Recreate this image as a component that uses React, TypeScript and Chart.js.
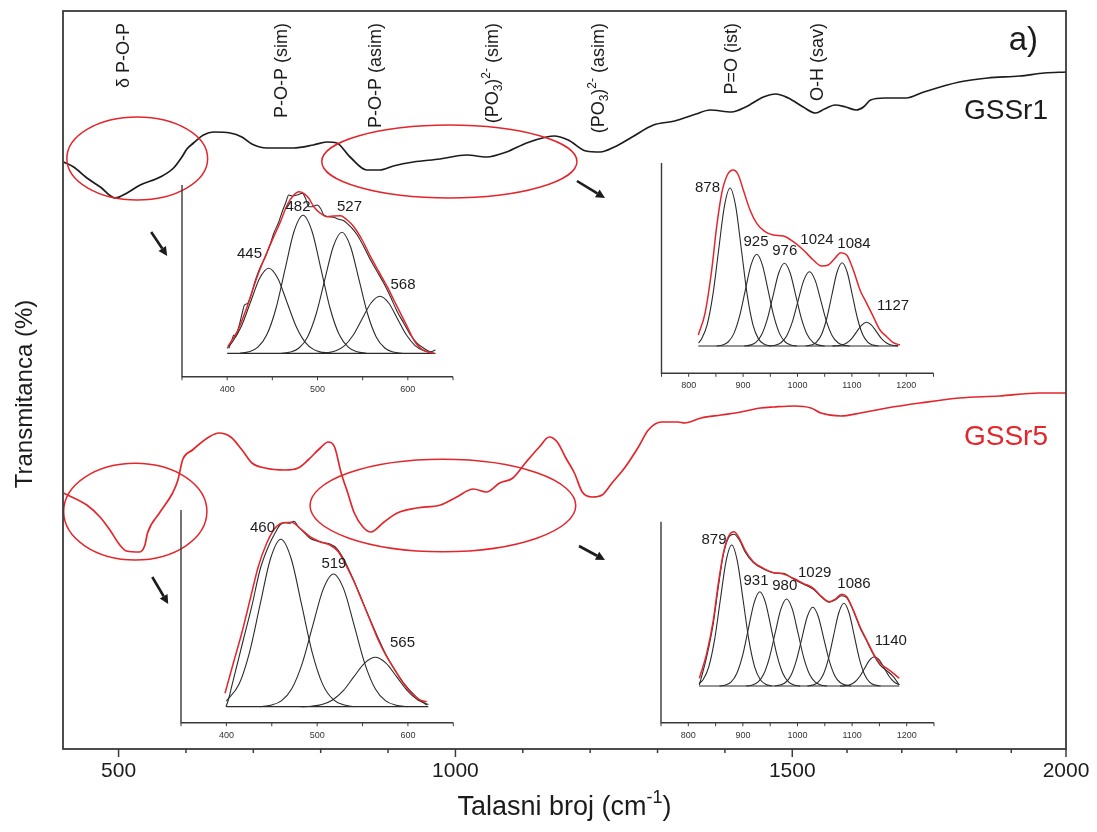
import React, { useEffect, useRef } from "react";
import { Chart, registerables } from "chart.js";

Chart.register(...registerables);

const FONT = '"Liberation Sans", Arial, Helvetica, sans-serif';
const RED = "#e3262b";
const INK = "#1c1c1c";
const AXIS_INK = "#3a3a3a";

// ---------------- main spectra (wavenumber, transmittance in arbitrary units) ----------------
const gssr1Wavenumbers = [418.4, 433.3, 453.1, 472.9, 495.1, 512.5, 532.2, 561.8, 581.6, 594, 601.4, 611.2, 626, 640.9, 665.6, 683, 697.8, 720, 759.5, 789.1, 809, 823.8, 843.6, 868.3, 888, 907.8, 937.4, 977, 1016.6, 1046.3, 1075.9, 1105.6, 1135.2, 1146.4, 1167.4, 1193.8, 1214.9, 1235.9, 1262.3, 1293.9, 1325.5, 1357.1, 1378.1, 1409.7, 1430.8, 1457.2, 1475.6, 1494.1, 1519.9, 1542.5, 1558.8, 1578.1, 1597.6, 1617.2, 1630.1, 1643.1, 1669, 1707.8, 1740.3, 1805.1, 1856.9, 1915.3, 1960.6, 2000];
const gssr1Transmittance = [58.7, 58.2, 57.1, 56.2, 55.1, 55.6, 56.4, 57.2, 58.1, 59.2, 60.0, 60.6, 61.4, 61.7, 61.6, 61.2, 60.5, 60.1, 60.1, 60.4, 60.7, 60.6, 59.2, 57.9, 57.9, 58.3, 58.7, 59.0, 59.4, 59.2, 59.7, 60.6, 61.2, 61.3, 60.9, 59.8, 59.7, 60.2, 61.2, 62.4, 62.8, 63.5, 63.9, 63.7, 64.2, 65.2, 65.5, 65.1, 64.2, 63.6, 64.0, 64.4, 64.2, 63.9, 64.2, 64.9, 65.1, 65.1, 65.7, 66.7, 67.1, 67.3, 67.6, 67.7];

const gssr5Wavenumbers = [418, 452.8, 472.4, 487.1, 501.8, 511.6, 531.3, 539.1, 543, 560.6, 580.2, 588.1, 595, 609.7, 634.2, 648.9, 666.5, 683.3, 698, 717.5, 747, 766.6, 781.3, 800.9, 810.8, 820.6, 830.4, 840.2, 849.9, 862.7, 874.4, 894.1, 913.7, 943.1, 977.5, 1001.9, 1026.5, 1046.1, 1065.7, 1085.3, 1105, 1124.5, 1139.2, 1151.1, 1163.9, 1176.6, 1188.3, 1203, 1217.7, 1232.4, 1252.1, 1271.6, 1286.3, 1306, 1330.5, 1340.3, 1364.8, 1394.3, 1423.6, 1453, 1472.7, 1503.8, 1534.1, 1552.2, 1588.3, 1624.6, 1672.8, 1733.2, 1805.7, 1878.1, 1950.4, 2000];
const gssr5Transmittance = [25.6, 24.4, 23.2, 21.9, 20.4, 19.8, 19.7, 20.4, 21.6, 23.6, 25.6, 26.9, 28.9, 29.9, 31.2, 31.6, 31.2, 29.9, 28.6, 28.1, 27.9, 28.1, 28.9, 30.2, 30.7, 30.2, 27.6, 25.6, 23.6, 22.2, 21.7, 22.7, 23.6, 24.1, 24.4, 25.2, 26.0, 25.7, 26.6, 27.1, 28.7, 30.2, 31.2, 30.7, 29.1, 27.6, 25.7, 25.2, 25.4, 26.6, 28.2, 30.2, 31.9, 32.7, 32.7, 32.6, 33.1, 33.4, 33.7, 34.1, 34.2, 34.3, 34.1, 33.6, 33.3, 33.6, 34.1, 34.6, 35.1, 35.3, 35.6, 35.6];

const sampleNames = ["GSSr1", "GSSr5"];
const sampleNameValues = [63.8, 31.2];
const sampleNameColors = [INK, RED];

// ---------------- main axis (segmented: compressed above 1500 cm-1) ----------------
const AXIS_MIN = 417.5;
const AXIS_MAX = 2000;
const AXIS_BREAK = 1500;
const AXIS_COMPRESSION = 0.8126;
const Y_MIN = 0;
const Y_MAX = 73.8;
const axisTickValues = [500, 600, 700, 800, 900, 1000, 1100, 1200, 1300, 1400, 1500, 1600, 1700, 1800, 1900, 2000];
const axisLabeledTicks = [500, 1000, 1500, 2000];
const axisTickLabels = ["500", "1000", "1500", "2000"];

const toAxis = (w: number) => (w <= AXIS_BREAK ? w : AXIS_BREAK + (w - AXIS_BREAK) * AXIS_COMPRESSION);

// ---------------- band annotations ----------------
type Seg = [string, "n" | "sub" | "sup"];
const bandLabelSegments: Seg[][] = [
  [["δ P-O-P", "n"]],
  [["P-O-P (sim)", "n"]],
  [["P-O-P (asim)", "n"]],
  [["(PO", "n"], ["3", "sub"], [")", "n"], ["2-", "sup"], [" (sim)", "n"]],
  [["(PO", "n"], ["3", "sub"], [")", "n"], ["2-", "sup"], [" (asim)", "n"]],
  [["P=O (ist)", "n"]],
  [["O-H (sav)", "n"]],
];
const bandLabelWavenumbers = [508.6, 742.7, 882.1, 1055.6, 1212.8, 1410, 1547.4];

const ellipseCentersW = [527.7, 991, 524.8, 981.4];
const ellipseCentersV = [59.05, 58.75, 23.74, 24.35];
const ellipseRadiiW = [104.5, 189.4, 106.3, 197.2];
const ellipseRadiiV = [4.15, 3.65, 4.83, 4.62];

const arrowStartW = [548.4, 1180.4, 550, 1183.4];
const arrowStartV = [51.7, 56.8, 17.2, 20.3];
const arrowEndW = [572.2, 1222, 573.7, 1222];
const arrowEndV = [49.3, 55.1, 14.5, 18.9];

// ---------------- inset 1 : GSSr1, 400-630 cm-1 ----------------
const inset1Fit = [[400.7, 6.6], [411.1, 21.6], [422.1, 46.6], [433.2, 76.6], [444.3, 101.6], [451.6, 116.6], [459, 131.6], [466.4, 148.3], [473.8, 158.3], [479.3, 161.6], [484.8, 160], [490.4, 155], [495.9, 146.6], [503.3, 140], [510.7, 136.6], [518.1, 137.3], [525.5, 137.6], [532.9, 133.3], [540.2, 126.6], [549.5, 113.3], [558.7, 96.6], [567.9, 81.6], [577.2, 66.6], [584.5, 53.3], [591.9, 40], [599.3, 26.6], [606.6, 13.3], [614, 5], [621.4, 1.6], [628.8, 0]];
const inset1Measured = [[401.8, 5], [405.5, 14], [407.3, 18.3], [409.2, 16.6], [412.9, 26.6], [416.6, 40], [419.2, 48.3], [422.8, 50], [425.8, 56.6], [431.3, 73.3], [436.9, 86.6], [442.4, 96.6], [448, 110], [451.6, 120], [457.2, 131.6], [460.9, 141.6], [464.6, 150], [468.2, 158.3], [472, 157.3], [477.5, 158.3], [483.1, 160], [486.7, 155], [490.4, 146.6], [494.1, 146.6], [499.7, 148.3], [503.3, 145], [507, 138.3], [512.5, 136.6], [518.1, 136], [523.6, 134], [529.1, 132.6], [534.7, 128.3], [538.4, 125], [544, 118.3], [551.3, 106.6], [558.7, 93.3], [566.1, 81.6], [573.4, 70], [580.8, 56.6], [588.3, 41.6], [595.6, 30], [603, 18.3], [610.4, 10], [617.7, 5], [625.1, 1.6], [630.6, 3.3]];
const inset1Peak445 = [[400, 5], [406, 11.5], [416, 27.6], [426, 51.6], [436, 75], [446, 85], [456, 75], [466, 51.6], [476, 27.6], [486, 11.5], [496, 3.7], [506, 0.9], [516, 0]];
const inset1Peak482 = [[414, 0], [424, 1.5], [434, 6.1], [444, 18.7], [454, 44.8], [464, 83.7], [474, 121.8], [484, 138], [494, 121.8], [504, 83.7], [514, 44.8], [524, 18.7], [534, 6.1], [544, 1.5], [554, 0]];
const inset1Peak527 = [[460, 0], [470, 1.3], [479.5, 5.3], [489, 16.4], [498.5, 39.3], [508, 73.4], [517.5, 106.8], [527, 121], [536.5, 106.8], [546, 73.4], [555.5, 39.3], [565, 16.4], [574.5, 5.3], [584, 1.3], [594, 0]];
const inset1Peak568 = [[501, 0], [510.5, 0.6], [520.3, 2.5], [530, 7.7], [539.8, 18.5], [549.5, 34.6], [559.3, 50.3], [569, 57], [578.8, 50.3], [588.5, 34.6], [598.3, 18.5], [608, 7.7], [617.8, 2.5], [627.5, 0.6]];
const inset1Baseline = [[400, 0], [630.6, 0]];
const inset1PeakNames = ["445", "482", "527", "568"];
const inset1PeakNameX = [424.7, 478.4, 535.4, 594.7];
const inset1PeakNameY = [99.3, 146.3, 146.3, 68.3];
const inset1TickLabels = [400, 500, 600];

// ---------------- inset 2 : GSSr1, 820-1190 cm-1 ----------------
const inset2Fit = [[817.6, 11], [830, 32.7], [842.3, 76], [851.4, 119.3], [860.7, 152.7], [871, 171], [882, 176], [891.2, 171], [900.4, 156], [912.7, 136], [925, 122.7], [940.3, 114.3], [955.5, 111], [973.9, 110], [992.3, 104.3], [1010.7, 96], [1029, 86], [1044.5, 80], [1056.6, 81], [1068.9, 87.7], [1079.4, 93.3], [1090.4, 91], [1102.6, 76], [1114.9, 56], [1127.2, 42.7], [1139.3, 29.3], [1151.7, 16], [1164, 9.3], [1176.1, 3.3], [1188.4, 1]];
const inset2Peak878 = [[818, 3], [823.5, 6.9], [834, 21.4], [844.5, 51.3], [855, 95.8], [865.5, 139.4], [876, 158], [886.5, 139.4], [897, 95.8], [907.5, 51.3], [918, 21.4], [928.5, 6.9], [939, 1.8], [950, 0]];
const inset2Peak925 = [[851, 0], [862, 1], [872.5, 4], [883, 12.4], [893.5, 29.8], [904, 55.6], [914.5, 80.9], [925, 91.7], [935.5, 80.9], [946, 55.6], [956.5, 29.8], [967, 12.4], [977.5, 4], [988, 1], [999, 0]];
const inset2Peak976 = [[902, 0], [913, 0.9], [923.5, 3.6], [934, 11.2], [944.5, 26.9], [955, 50.2], [965.5, 73], [976, 82.7], [986.5, 73], [997, 50.2], [1007.5, 26.9], [1018, 11.2], [1028.5, 3.6], [1039, 0.9], [1050, 0]];
const inset2Peak1024 = [[948, 0], [959, 0.8], [969.5, 3.3], [980, 10.1], [990.5, 24.1], [1001, 45.1], [1011.5, 65.6], [1022, 74.3], [1032.5, 65.6], [1043, 45.1], [1053.5, 24.1], [1064, 10.1], [1074.5, 3.3], [1085, 0.8], [1096, 0]];
const inset2Peak1084 = [[1015, 0], [1025, 0.9], [1034.5, 3.7], [1044, 11.3], [1053.5, 27], [1063, 50.5], [1072.5, 73.5], [1082, 83.3], [1091.5, 73.5], [1101, 50.5], [1110.5, 27], [1120, 11.3], [1129.5, 3.7], [1139, 0.9], [1149, 0]];
const inset2Peak1127 = [[1064, 0], [1073, 0.3], [1082, 1], [1091, 3.2], [1100, 7.7], [1109, 14.4], [1118, 20.9], [1127, 23.7], [1136, 20.9], [1145, 14.4], [1154, 7.7], [1163, 3.2], [1172, 1], [1181, 0.3], [1185, 0]];
const inset2Baseline = [[817.6, 0], [1185, 0]];
const inset2PeakNames = ["878", "925", "976", "1024", "1084", "1127"];
const inset2PeakNameX = [834.6, 923.7, 976.5, 1035.8, 1103.9, 1175.6];
const inset2PeakNameY = [158.5, 104, 95.2, 106, 102, 40];
const inset2TickLabels = [800, 900, 1000, 1100, 1200];

// ---------------- inset 3 : GSSr5, 400-620 cm-1 ----------------
const inset3Fit = [[398.5, 13.4], [407.6, 43.4], [416.9, 73.4], [426, 106.7], [435.1, 140], [444.4, 163.4], [453.5, 178.4], [462.7, 184], [471.9, 184.4], [481.1, 178.4], [492.1, 170], [503.1, 165], [514.1, 161.7], [523.3, 155], [530.7, 143.4], [539.8, 126.7], [549.1, 106.7], [558.2, 86.7], [567.3, 66.7], [576.6, 50], [585.7, 36.7], [594.9, 23.4], [604.1, 13.4], [613.3, 6.7], [620.7, 5]];
const inset3Measured = [[399.6, 0], [402.1, 6.7], [405.8, 20], [411.3, 40], [418.6, 66.7], [427.9, 100], [437, 136.7], [446.2, 160], [453.5, 173.4], [459, 181.7], [464.6, 184], [470.1, 183.4], [474.5, 185.4], [479.2, 180], [484.7, 175], [492.1, 168.4], [499.5, 165.7], [506.8, 164], [514.1, 162.7], [521.5, 158.4], [528.8, 148.4], [539.8, 127.4], [558.2, 87.4], [576.6, 50.7], [594.9, 24], [609.6, 9.4], [620.7, 1.7]];
const inset3Peak460 = [[400, 5.6], [414, 22.6], [425.5, 54.4], [437, 101.5], [448.5, 147.7], [460, 167.4], [471.5, 147.7], [483, 101.5], [494.5, 54.4], [506, 22.6], [517.5, 7.3], [529, 1.9], [541, 0]];
const inset3Peak519 = [[437, 0], [449, 1.5], [460.5, 5.8], [472, 18], [483.5, 43.1], [495, 80.5], [506.5, 117.1], [518, 132.7], [529.5, 117.1], [541, 80.5], [552.5, 43.1], [564, 18], [575.5, 5.8], [587, 1.5], [599, 0]];
const inset3Peak565 = [[482, 0], [493.5, 0.5], [505.3, 2.2], [517, 6.7], [528.8, 16], [540.5, 30], [552.3, 43.6], [564, 49.4], [575.8, 43.6], [587.5, 30], [599.3, 16], [611, 6.7], [622.5, 2.2]];
const inset3Baseline = [[400, 0], [622.5, 0]];
const inset3PeakNames = ["460", "519", "565"];
const inset3PeakNameX = [439.8, 518.5, 594];
const inset3PeakNameY = [179.2, 142.7, 64.2];
const inset3TickLabels = [400, 500, 600];

// ---------------- inset 4 : GSSr5, 820-1190 cm-1 ----------------
const inset4Fit = [[820.2, 7.7], [833.7, 32.7], [845.8, 66], [855, 102.7], [864.1, 132.7], [873.3, 149.3], [883.7, 154.3], [893.5, 147.7], [903.8, 136], [919.1, 124.3], [937.4, 117.7], [955.7, 113.3], [974, 112], [992.3, 107.7], [1010.6, 102.7], [1029, 97.7], [1044.3, 89.3], [1058.2, 84.3], [1068.7, 86.7], [1081, 91.7], [1090.1, 89.3], [1102.2, 76], [1114.5, 59.3], [1126.7, 46], [1138.8, 32.7], [1151.1, 22.7], [1163.4, 17.7], [1175.5, 12.7], [1186.4, 7.7]];
const inset4Measured = [[820.2, 1], [833.7, 29.3], [845.8, 62.7], [855, 99.3], [864.1, 131], [873.3, 147.7], [883.7, 151.7], [893.5, 146], [903.8, 134.3], [919.1, 123.3], [937.4, 117], [955.7, 113.3], [974, 112.7], [992.3, 107], [1010.6, 102], [1029, 96.7], [1044.3, 88.7], [1058.2, 83.7], [1068.7, 86], [1081, 90.3], [1090.1, 88.3], [1102.2, 75.3], [1114.5, 58.3], [1126.7, 45], [1138.8, 31.7], [1151.1, 21], [1163.4, 15.3], [1175.5, 9.3], [1186.4, 1]];
const inset4Peak879 = [[819.6, 2.4], [827, 6.2], [837.5, 19.1], [848, 45.8], [858.5, 85.5], [869, 124.4], [879.5, 141], [890, 124.4], [900.5, 85.5], [911, 45.8], [921.5, 19.1], [932, 6.2], [942.5, 1.6], [953, 0]];
const inset4Peak931 = [[857, 0], [868, 1], [878.5, 4.1], [889, 12.8], [899.5, 30.6], [910, 57.2], [920.5, 83.2], [931, 94.3], [941.5, 83.2], [952, 57.2], [962.5, 30.6], [973, 12.8], [983.5, 4.1], [994, 1], [1005, 0]];
const inset4Peak980 = [[906, 0], [917, 1], [927.5, 3.8], [938, 11.8], [948.5, 28.2], [959, 52.8], [969.5, 76.8], [980, 87], [990.5, 76.8], [1001, 52.8], [1011.5, 28.2], [1022, 11.8], [1032.5, 3.8], [1043, 1], [1054, 0]];
const inset4Peak1029 = [[958, 0], [968, 0.9], [978, 3.5], [988, 10.6], [998, 25.6], [1008, 47.7], [1018, 69.5], [1028, 78.7], [1038, 69.5], [1048, 47.7], [1058, 25.6], [1068, 10.6], [1078, 3.5], [1088, 0.9], [1098, 0]];
const inset4Peak1086 = [[1018, 0], [1028, 0.9], [1037.5, 3.6], [1047, 11.2], [1056.5, 26.9], [1066, 50.2], [1075.5, 73], [1085, 82.7], [1094.5, 73], [1104, 50.2], [1113.5, 26.9], [1123, 11.2], [1132.5, 3.6], [1142, 0.9], [1152, 0]];
const inset4Peak1140 = [[1078, 0], [1087, 0.3], [1096, 1.3], [1105, 4], [1114, 9.5], [1123, 17.8], [1132, 25.9], [1141, 29.3], [1150, 25.9], [1159, 17.8], [1168, 9.5], [1177, 4], [1186.4, 1.2]];
const inset4Baseline = [[819.6, 0], [1186.4, 0]];
const inset4PeakNames = ["879", "931", "980", "1029", "1086", "1140"];
const inset4PeakNameX = [847.1, 924, 976.6, 1031.5, 1103.5, 1170.9];
const inset4PeakNameY = [146, 105, 100, 113, 102, 45.2];
const inset4TickLabels = [800, 900, 1000, 1100, 1200];

// ---------------- helpers ----------------
const segFont = (kind: string, size: number) =>
  `${kind === "n" ? size : Math.round(size * 0.66)}px ${FONT}`;

function drawRich(ctx: CanvasRenderingContext2D, segs: Seg[], x: number, y: number, size: number, align: "left" | "right" | "center") {
  ctx.textAlign = "left";
  ctx.textBaseline = "middle";
  const widths = segs.map(([t, k]) => {
    ctx.font = segFont(k, size);
    return ctx.measureText(t).width;
  });
  const total = widths.reduce((s, v) => s + v, 0);
  let cx = align === "right" ? x - total : align === "center" ? x - total / 2 : x;
  segs.forEach(([t, k], i) => {
    ctx.font = segFont(k, size);
    const dy = k === "sub" ? size * 0.3 : k === "sup" ? -size * 0.36 : 0;
    ctx.fillText(t, cx, y + dy);
    cx += widths[i];
  });
}

const mainDecor = {
  id: "mainDecor",
  afterDatasetsDraw(chart: any) {
    const { ctx, chartArea: a, scales } = chart;
    const px = (w: number) => scales.x.getPixelForValue(toAxis(w));
    const py = (v: number) => scales.y.getPixelForValue(v);
    ctx.save();

    // ellipses
    ctx.strokeStyle = RED;
    ctx.lineWidth = 1.5;
    ellipseCentersW.forEach((w, i) => {
      const cx = px(w);
      const cy = py(ellipseCentersV[i]);
      const rx = Math.abs(px(w + ellipseRadiiW[i]) - cx);
      const ry = Math.abs(py(ellipseCentersV[i] + ellipseRadiiV[i]) - cy);
      ctx.beginPath();
      ctx.ellipse(cx, cy, rx, ry, 0, 0, Math.PI * 2);
      ctx.stroke();
    });

    // arrows
    ctx.strokeStyle = INK;
    ctx.fillStyle = INK;
    ctx.lineWidth = 2.6;
    arrowStartW.forEach((w, i) => {
      const x1 = px(w), y1 = py(arrowStartV[i]);
      const x2 = px(arrowEndW[i]), y2 = py(arrowEndV[i]);
      const ang = Math.atan2(y2 - y1, x2 - x1);
      const hl = 9, hw = 4.5;
      const bx = x2 - hl * Math.cos(ang), by = y2 - hl * Math.sin(ang);
      ctx.beginPath();
      ctx.moveTo(x1, y1);
      ctx.lineTo(bx, by);
      ctx.stroke();
      ctx.beginPath();
      ctx.moveTo(x2, y2);
      ctx.lineTo(bx + hw * Math.sin(ang), by - hw * Math.cos(ang));
      ctx.lineTo(bx - hw * Math.sin(ang), by + hw * Math.cos(ang));
      ctx.closePath();
      ctx.fill();
    });

    // frame
    ctx.strokeStyle = AXIS_INK;
    ctx.lineWidth = 1.8;
    ctx.strokeRect(a.left, a.top, a.right - a.left, a.bottom - a.top);

    // ticks + labels
    ctx.lineWidth = 1.5;
    ctx.fillStyle = INK;
    ctx.font = `21px ${FONT}`;
    ctx.textAlign = "center";
    ctx.textBaseline = "middle";
    axisTickValues.forEach((w) => {
      const x = px(w);
      const li = axisLabeledTicks.indexOf(w);
      const len = li >= 0 ? 8 : 4;
      ctx.beginPath();
      ctx.moveTo(x, a.bottom);
      ctx.lineTo(x, a.bottom + len);
      ctx.stroke();
      if (li >= 0) ctx.fillText(axisTickLabels[li], x, a.bottom + 22);
    });

    // axis titles
    drawRich(ctx, [["Talasni broj (cm", "n"], ["-1", "sup"], [")", "n"]], (a.left + a.right) / 2, 808, 27, "center");
    ctx.save();
    ctx.translate(25, 394);
    ctx.rotate(-Math.PI / 2);
    drawRich(ctx, [["Transmitanca (%)", "n"]], 0, 0, 24, "center");
    ctx.restore();

    // band labels
    bandLabelSegments.forEach((segs, i) => {
      ctx.save();
      ctx.translate(px(bandLabelWavenumbers[i]), a.top + 12);
      ctx.rotate(-Math.PI / 2);
      drawRich(ctx, segs, 0, 0, 18, "right");
      ctx.restore();
    });

    // sample names
    sampleNames.forEach((name, i) => {
      ctx.fillStyle = sampleNameColors[i];
      ctx.font = `28px ${FONT}`;
      ctx.textAlign = "right";
      ctx.textBaseline = "middle";
      ctx.fillText(name, a.right - 18, py(sampleNameValues[i]));
    });

    // panel label
    ctx.fillStyle = INK;
    ctx.font = `33px ${FONT}`;
    ctx.textAlign = "right";
    ctx.textBaseline = "middle";
    ctx.fillText("a)", a.right - 28, a.top + 30);

    ctx.restore();
  },
};

const toPoints = (pairs: number[][]) => pairs.map(([x, y]) => ({ x, y }));

function buildMainConfig(): any {
  return {
    type: "line",
    data: {
      datasets: [
        {
          label: "GSSr1",
          data: gssr1Wavenumbers.map((w, i) => ({ x: toAxis(w), y: gssr1Transmittance[i] })),
          borderColor: INK,
          borderWidth: 1.7,
          pointRadius: 0,
          cubicInterpolationMode: "monotone",
        },
        {
          label: "GSSr5",
          data: gssr5Wavenumbers.map((w, i) => ({ x: toAxis(w), y: gssr5Transmittance[i] })),
          borderColor: RED,
          borderWidth: 1.7,
          pointRadius: 0,
          cubicInterpolationMode: "monotone",
        },
      ],
    },
    options: {
      responsive: false,
      animation: false,
      devicePixelRatio: 1,
      events: [],
      layout: { padding: { left: 63, right: 31, top: 11, bottom: 83 }, autoPadding: false },
      plugins: { legend: { display: false }, tooltip: { enabled: false } },
      scales: {
        x: { type: "linear", min: toAxis(AXIS_MIN), max: toAxis(AXIS_MAX), display: false },
        y: { type: "linear", min: Y_MIN, max: Y_MAX, display: false },
      },
    },
    plugins: [mainDecor],
  };
}

type InsetSpec = {
  area: { left: number; top: number; right: number; bottom: number };
  xMin: number;
  xMax: number;
  yMin: number;
  yMax: number;
  fit: number[][];
  measured: number[][] | null;
  peaks: number[][][];
  baseline: number[][];
  names: string[];
  nameX: number[];
  nameY: number[];
  tickLabels: number[];
};

const insetSpecs: InsetSpec[] = [
  {
    area: { left: 182, top: 185, right: 453, bottom: 376.7 },
    xMin: 350, xMax: 650, yMin: -23.4, yMax: 168.3,
    fit: inset1Fit, measured: inset1Measured,
    peaks: [inset1Peak445, inset1Peak482, inset1Peak527, inset1Peak568],
    baseline: inset1Baseline,
    names: inset1PeakNames, nameX: inset1PeakNameX, nameY: inset1PeakNameY,
    tickLabels: inset1TickLabels,
  },
  {
    area: { left: 661.5, top: 163, right: 933.5, bottom: 373.3 },
    xMin: 750, xMax: 1250, yMin: -27.3, yMax: 183,
    fit: inset2Fit, measured: null,
    peaks: [inset2Peak878, inset2Peak925, inset2Peak976, inset2Peak1024, inset2Peak1084, inset2Peak1127],
    baseline: inset2Baseline,
    names: inset2PeakNames, nameX: inset2PeakNameX, nameY: inset2PeakNameY,
    tickLabels: inset2TickLabels,
  },
  {
    area: { left: 181, top: 510, right: 453.3, bottom: 722.7 },
    xMin: 350, xMax: 650, yMin: -16, yMax: 196.7,
    fit: inset3Fit, measured: inset3Measured,
    peaks: [inset3Peak460, inset3Peak519, inset3Peak565],
    baseline: inset3Baseline,
    names: inset3PeakNames, nameX: inset3PeakNameX, nameY: inset3PeakNameY,
    tickLabels: inset3TickLabels,
  },
  {
    area: { left: 661, top: 521.7, right: 934, bottom: 722.7 },
    xMin: 750, xMax: 1250, yMin: -36.7, yMax: 164.3,
    fit: inset4Fit, measured: inset4Measured,
    peaks: [inset4Peak879, inset4Peak931, inset4Peak980, inset4Peak1029, inset4Peak1086, inset4Peak1140],
    baseline: inset4Baseline,
    names: inset4PeakNames, nameX: inset4PeakNameX, nameY: inset4PeakNameY,
    tickLabels: inset4TickLabels,
  },
];

const PAD = { left: 20, right: 20, top: 12, bottom: 26 };

function insetBox(spec: InsetSpec) {
  const { area } = spec;
  const left = Math.floor(area.left) - PAD.left;
  const top = Math.floor(area.top) - PAD.top;
  const width = Math.ceil(area.right) + PAD.right - left;
  const height = Math.ceil(area.bottom) + PAD.bottom - top;
  return { left, top, width, height };
}

function buildInsetConfig(spec: InsetSpec): any {
  const box = insetBox(spec);
  const padding = {
    left: spec.area.left - box.left,
    top: spec.area.top - box.top,
    right: box.left + box.width - spec.area.right,
    bottom: box.top + box.height - spec.area.bottom,
  };
  const line = (data: number[][], color: string, width: number, smooth = true) => ({
    data: toPoints(data),
    borderColor: color,
    borderWidth: width,
    pointRadius: 0,
    cubicInterpolationMode: smooth ? "monotone" : "default",
    tension: 0,
  });
  const datasets: any[] = [line(spec.fit, RED, 1.5)];
  if (spec.measured) datasets.push(line(spec.measured, "#2b2b2b", 1.1));
  spec.peaks.forEach((p) => datasets.push(line(p, "#2b2b2b", 1.1)));
  datasets.push(line(spec.baseline, "#2b2b2b", 1.2, false));

  const decor = {
    id: "insetDecor",
    afterDatasetsDraw(chart: any) {
      const { ctx, chartArea: a, scales } = chart;
      ctx.save();
      ctx.strokeStyle = AXIS_INK;
      ctx.lineWidth = 1.4;
      ctx.beginPath();
      ctx.moveTo(a.left, a.top);
      ctx.lineTo(a.left, a.bottom);
      ctx.lineTo(a.right, a.bottom);
      ctx.stroke();
      ctx.lineWidth = 1;
      for (let t = spec.xMin; t <= spec.xMax + 0.01; t += 50) {
        const x = scales.x.getPixelForValue(t);
        ctx.beginPath();
        ctx.moveTo(x, a.bottom);
        ctx.lineTo(x, a.bottom + 3.5);
        ctx.stroke();
      }
      ctx.fillStyle = "#333";
      ctx.font = `9px ${FONT}`;
      ctx.textAlign = "center";
      ctx.textBaseline = "middle";
      spec.tickLabels.forEach((t) => ctx.fillText(String(t), scales.x.getPixelForValue(t), a.bottom + 12.5));
      ctx.fillStyle = INK;
      ctx.font = `15px ${FONT}`;
      spec.names.forEach((n, i) =>
        ctx.fillText(n, scales.x.getPixelForValue(spec.nameX[i]), scales.y.getPixelForValue(spec.nameY[i]))
      );
      ctx.restore();
    },
  };

  return {
    type: "line",
    data: { datasets },
    options: {
      responsive: false,
      animation: false,
      devicePixelRatio: 1,
      events: [],
      layout: { padding, autoPadding: false },
      plugins: { legend: { display: false }, tooltip: { enabled: false } },
      scales: {
        x: { type: "linear", min: spec.xMin, max: spec.xMax, display: false },
        y: { type: "linear", min: spec.yMin, max: spec.yMax, display: false },
      },
    },
    plugins: [decor],
  };
}

function ChartCanvas(props: { left: number; top: number; width: number; height: number; build: () => any }) {
  const ref = useRef<HTMLCanvasElement | null>(null);
  useEffect(() => {
    if (!ref.current) return;
    const chart = new Chart(ref.current, props.build());
    return () => chart.destroy();
  }, []);
  return (
    <canvas
      ref={ref}
      width={props.width}
      height={props.height}
      style={{ position: "absolute", left: props.left, top: props.top, width: props.width, height: props.height }}
    />
  );
}

export default function App() {
  return (
    <div style={{ position: "absolute", left: 0, top: 0, width: 1097, height: 832, background: "#ffffff", overflow: "hidden" }}>
      <ChartCanvas left={0} top={0} width={1097} height={832} build={buildMainConfig} />
      {insetSpecs.map((spec, i) => {
        const box = insetBox(spec);
        return <ChartCanvas key={i} {...box} build={() => buildInsetConfig(spec)} />;
      })}
    </div>
  );
}
